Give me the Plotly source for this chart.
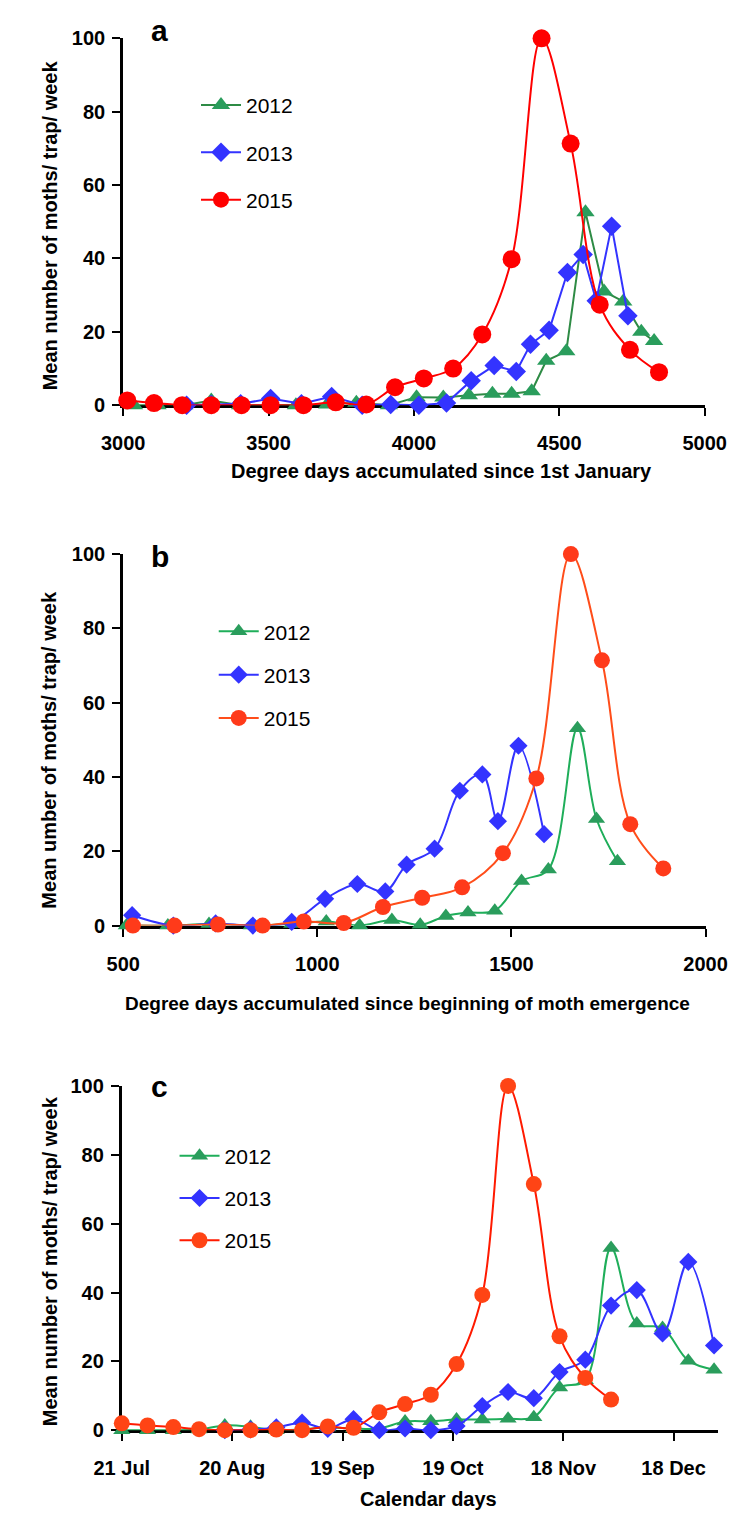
import plotly.graph_objects as go

# ---------------- data ----------------
# Panel a: degree days accumulated since 1st January
A_X_2012 = [3037, 3118, 3210, 3303, 3402, 3507, 3594, 3702, 3802, 3914, 4009, 4101, 4189, 4270, 4336, 4405, 4455, 4524, 4590, 4654, 4720, 4782, 4826]
A_Y_2012 = [0, 0, 0, 1.3, 0, 0, 0, 0.2, 0.7, 0, 2.2, 2.1, 2.7, 3.1, 3.1, 3.8, 12.1, 14.7, 52.6, 31.0, 28.3, 20.0, 17.5]
A_X_2013 = [3218, 3303, 3404, 3507, 3613, 3717, 3822, 3920, 4017, 4112, 4197, 4276, 4352, 4401, 4465, 4528, 4582, 4627, 4680, 4736]
A_Y_2013 = [0, 0.2, 0.4, 1.8, 0.4, 2.4, 0, 0.2, 0, 0.6, 6.7, 10.8, 9.2, 16.6, 20.4, 36.2, 41.1, 28.5, 48.8, 24.4]
A_X_2015 = [3014, 3106, 3203, 3303, 3407, 3507, 3620, 3731, 3836, 3935, 4034, 4135, 4235, 4336, 4439, 4539, 4639, 4743, 4843]
A_Y_2015 = [1.3, 0.6, 0, 0, 0, 0, 0, 0.8, 0.2, 4.9, 7.3, 10.0, 19.3, 39.8, 100, 71.3, 27.4, 15.1, 9.0]
A_TICKS = [3000, 3500, 4000, 4500, 5000]

# Panel b: degree days accumulated since beginning of moth emergence
B_X_2012 = [508, 615, 721, 830, 934, 1023, 1109, 1192, 1265, 1331, 1388, 1457, 1526, 1595, 1670, 1719, 1773]
B_Y_2012 = [0, 0, 0.4, 0, 0.4, 1.1, 0, 1.5, 0.2, 2.6, 3.5, 4.0, 12.0, 15.1, 53.1, 28.7, 17.3]
B_X_2013 = [523, 629, 738, 834, 934, 1020, 1103, 1175, 1230, 1302, 1367, 1425, 1465, 1518, 1584]
B_Y_2013 = [2.8, 0, 0.6, 0, 1.0, 7.2, 11.2, 9.2, 16.4, 20.7, 36.3, 40.7, 28.1, 48.4, 24.6]
B_X_2015 = [525, 632, 744, 859, 965, 1068, 1169, 1270, 1373, 1478, 1564, 1653, 1733, 1806, 1891]
B_Y_2015 = [0, 0, 0.3, 0, 1.1, 0.7, 5.0, 7.5, 10.3, 19.5, 39.6, 100, 71.4, 27.3, 15.4]
B_TICKS = [500, 1000, 1500, 2000]

# Panel c: calendar days (weekly sampling dates)
C_X_2012 = ["2015-07-21", "2015-07-28", "2015-08-04", "2015-08-11", "2015-08-18", "2015-08-25",
            "2015-09-01", "2015-09-08", "2015-09-15", "2015-09-22", "2015-09-29", "2015-10-06",
            "2015-10-13", "2015-10-20", "2015-10-27", "2015-11-03", "2015-11-10", "2015-11-17",
            "2015-11-24", "2015-12-01", "2015-12-08", "2015-12-15", "2015-12-22", "2015-12-29"]
C_Y_2012 = [0, 0, 0, 0.2, 1.4, 1.0, 0, 0.3, 0.8, 0.5, 0.5, 2.5, 2.6, 3.1, 3.1, 3.3, 3.8, 12.4, 14.5, 52.9, 31.0, 29.7, 20.2, 17.6]
C_X_2013 = ["2015-08-18", "2015-08-25", "2015-09-01", "2015-09-08", "2015-09-15", "2015-09-22",
            "2015-09-29", "2015-10-06", "2015-10-13", "2015-10-20", "2015-10-27", "2015-11-03",
            "2015-11-10", "2015-11-17", "2015-11-24", "2015-12-01", "2015-12-08", "2015-12-15",
            "2015-12-22", "2015-12-29"]
C_Y_2013 = [0, 0.2, 0.8, 2.2, 0.4, 3.2, 0, 0.5, 0, 1.2, 7.0, 11.1, 9.3, 16.9, 20.5, 36.2, 40.7, 28.1, 48.9, 24.6]
C_X_2015 = ["2015-07-21", "2015-07-28", "2015-08-04", "2015-08-11", "2015-08-18", "2015-08-25",
            "2015-09-01", "2015-09-08", "2015-09-15", "2015-09-22", "2015-09-29", "2015-10-06",
            "2015-10-13", "2015-10-20", "2015-10-27", "2015-11-03", "2015-11-10", "2015-11-17",
            "2015-11-24", "2015-12-01"]
C_Y_2015 = [2.0, 1.4, 0.9, 0.3, 0, 0, 0.2, 0, 1.1, 0.7, 5.2, 7.6, 10.3, 19.2, 39.3, 100, 71.5, 27.3, 15.2, 8.9]
C_TICK_DATES = ["2015-07-21", "2015-08-20", "2015-09-19", "2015-10-19", "2015-11-18", "2015-12-18"]
C_TICK_TEXT = ["21 Jul", "20 Aug", "19 Sep", "19 Oct", "18 Nov", "18 Dec"]

Y_TICKS = [0, 20, 40, 60, 80, 100]
YEARS = ["2012", "2013", "2015"]
Y_TITLES = ["Mean number of moths/ trap/ week", "Mean umber of moths/ trap/ week",
            "Mean number of moths/ trap/ week"]
X_TITLES = ["Degree days accumulated since 1st January",
            "Degree days accumulated since beginning of moth emergence",
            "Calendar days"]
PANEL_LABELS = ["a", "b", "c"]

# ---------------- style ----------------
W, H = 750, 1524
FONT = "Liberation Sans, Arial, sans-serif"
GREEN_M = "#2a9d5c"
BLUE = "#3333ff"

panels = [
    dict(data=[(A_X_2012, A_Y_2012), (A_X_2013, A_Y_2013), (A_X_2015, A_Y_2015)],
         shapes=["linear", "linear", "spline"],
         lines=["#2e8b45", BLUE, "#ff0000"], marks=[GREEN_M, BLUE, "#ff0000"],
         msize=[16, 15, 18],
         xdom=(102, 725), ydom=(400, 27.7), xrange=[3000, 5000], ticks=A_TICKS,
         legend=dict(x=180, y=75, gap=17), xt=(443, 467, 20), yt=217, lab=(141, 20)),
    dict(data=[(B_X_2012, B_Y_2012), (B_X_2013, B_Y_2013), (B_X_2015, B_Y_2015)],
         shapes=["spline", "spline", "spline"],
         lines=["#1fae5a", BLUE, "#ff4d1a"], marks=[GREEN_M, BLUE, "#ff3a1a"],
         msize=[15, 14, 16],
         xdom=(102, 726), ydom=(928, 551), xrange=[500, 2000], ticks=B_TICKS,
         legend=dict(x=199, y=609, gap=13), xt=(407, 1007, 19), yt=749, lab=(141, 553)),
    dict(data=[(C_X_2012, C_Y_2012), (C_X_2013, C_Y_2013), (C_X_2015, C_Y_2015)],
         shapes=["spline", "spline", "spline"],
         lines=["#1fae5a", BLUE, "#ff1a00"], marks=[GREEN_M, BLUE, "#ff4415"],
         msize=[15, 14, 16],
         xdom=(100.5, 739), ydom=(1440, 1090.7), xrange=["2015-07-21", "2015-12-30"], ticks=None,
         legend=dict(x=157, y=1141, gap=12), xt=(429, 1510, 20), yt=1268, lab=(141, 1091)),
]

symbols = ["triangle-up", "diamond", "circle"]

fig = go.Figure()
annotations = []
layout = {}

for i, p in enumerate(panels):
    sfx = "" if i == 0 else str(i + 1)
    xa, ya = "x" + sfx, "y" + sfx
    leg = "legend" + sfx
    for j, (xs, ys) in enumerate(p["data"]):
        fig.add_trace(go.Scatter(
            x=xs, y=ys, mode="lines+markers", name=YEARS[j],
            xaxis=xa, yaxis=ya, legend=leg, legendgroup=f"{i}-{j}",
            line=dict(color=p["lines"][j], width=2, shape=p["shapes"][j], smoothing=1.0),
            marker=dict(symbol=symbols[j], size=p["msize"][j], color=p["marks"][j],
                        line=dict(width=0)),
            cliponaxis=False,
        ))
    x0, x1 = p["xdom"]
    yb, yt_ = p["ydom"]
    tickfont = dict(family=FONT, size=20, color="black", weight="bold")
    xaxis = dict(domain=[x0 / W, x1 / W], range=p["xrange"], showline=True, linecolor="black",
                 linewidth=3, ticks="outside", ticklen=8, tickwidth=2, tickcolor="black",
                 showgrid=False, zeroline=False, anchor=ya, layer="below traces",
                 tickfont=tickfont, ticklabelstandoff=10, tickmode="array")
    if i < 2:
        xaxis.update(tickvals=p["ticks"], ticktext=[str(t) for t in p["ticks"]])
    else:
        xaxis.update(type="date", tickvals=C_TICK_DATES, ticktext=C_TICK_TEXT)
    yaxis = dict(domain=[1 - yb / H, 1 - yt_ / H], range=[0, 100], showline=True,
                 linecolor="black", linewidth=3, ticks="outside", ticklen=8, tickwidth=2,
                 tickcolor="black", showgrid=False, zeroline=False, anchor=xa,
                 tickmode="array", tickvals=Y_TICKS, ticktext=[str(t) for t in Y_TICKS],
                 layer="below traces", tickfont=tickfont, ticklabelstandoff=3)
    layout["xaxis" + sfx] = xaxis
    layout["yaxis" + sfx] = yaxis
    lg = p["legend"]
    layout[leg] = dict(x=lg["x"] / W, y=1 - lg["y"] / H, xanchor="left",
                       yanchor="top", bgcolor="rgba(0,0,0,0)", borderwidth=0,
                       font=dict(family=FONT, size=21, color="black"),
                       tracegroupgap=lg["gap"], itemwidth=40, traceorder="grouped")
    annotations.append(dict(text=X_TITLES[i], x=p["xt"][0] / W, y=1 - p["xt"][1] / H,
                            xref="paper", yref="paper", showarrow=False, xanchor="center",
                            yanchor="middle",
                            font=dict(family=FONT, size=p["xt"][2], color="black", weight="bold")))
    annotations.append(dict(text=Y_TITLES[i], x=23 / W, y=1 - p["yt"] / H,
                            xref="paper", yref="paper", showarrow=False, textangle=-90,
                            xanchor="center", yanchor="middle",
                            font=dict(family=FONT, size=20, color="black", weight="bold")))
    annotations.append(dict(text=PANEL_LABELS[i], x=p["lab"][0] / W, y=1 - p["lab"][1] / H,
                            xref="paper", yref="paper", showarrow=False, xanchor="center",
                            yanchor="middle",
                            font=dict(family=FONT, size=30, color="black", weight="bold")))

fig.update_layout(
    width=W, height=H, margin=dict(l=0, r=0, t=0, b=0),
    paper_bgcolor="white", plot_bgcolor="white",
    showlegend=True, annotations=annotations,
    font=dict(family=FONT, color="black"),
    **layout,
)

fig.write_html("out.html")
